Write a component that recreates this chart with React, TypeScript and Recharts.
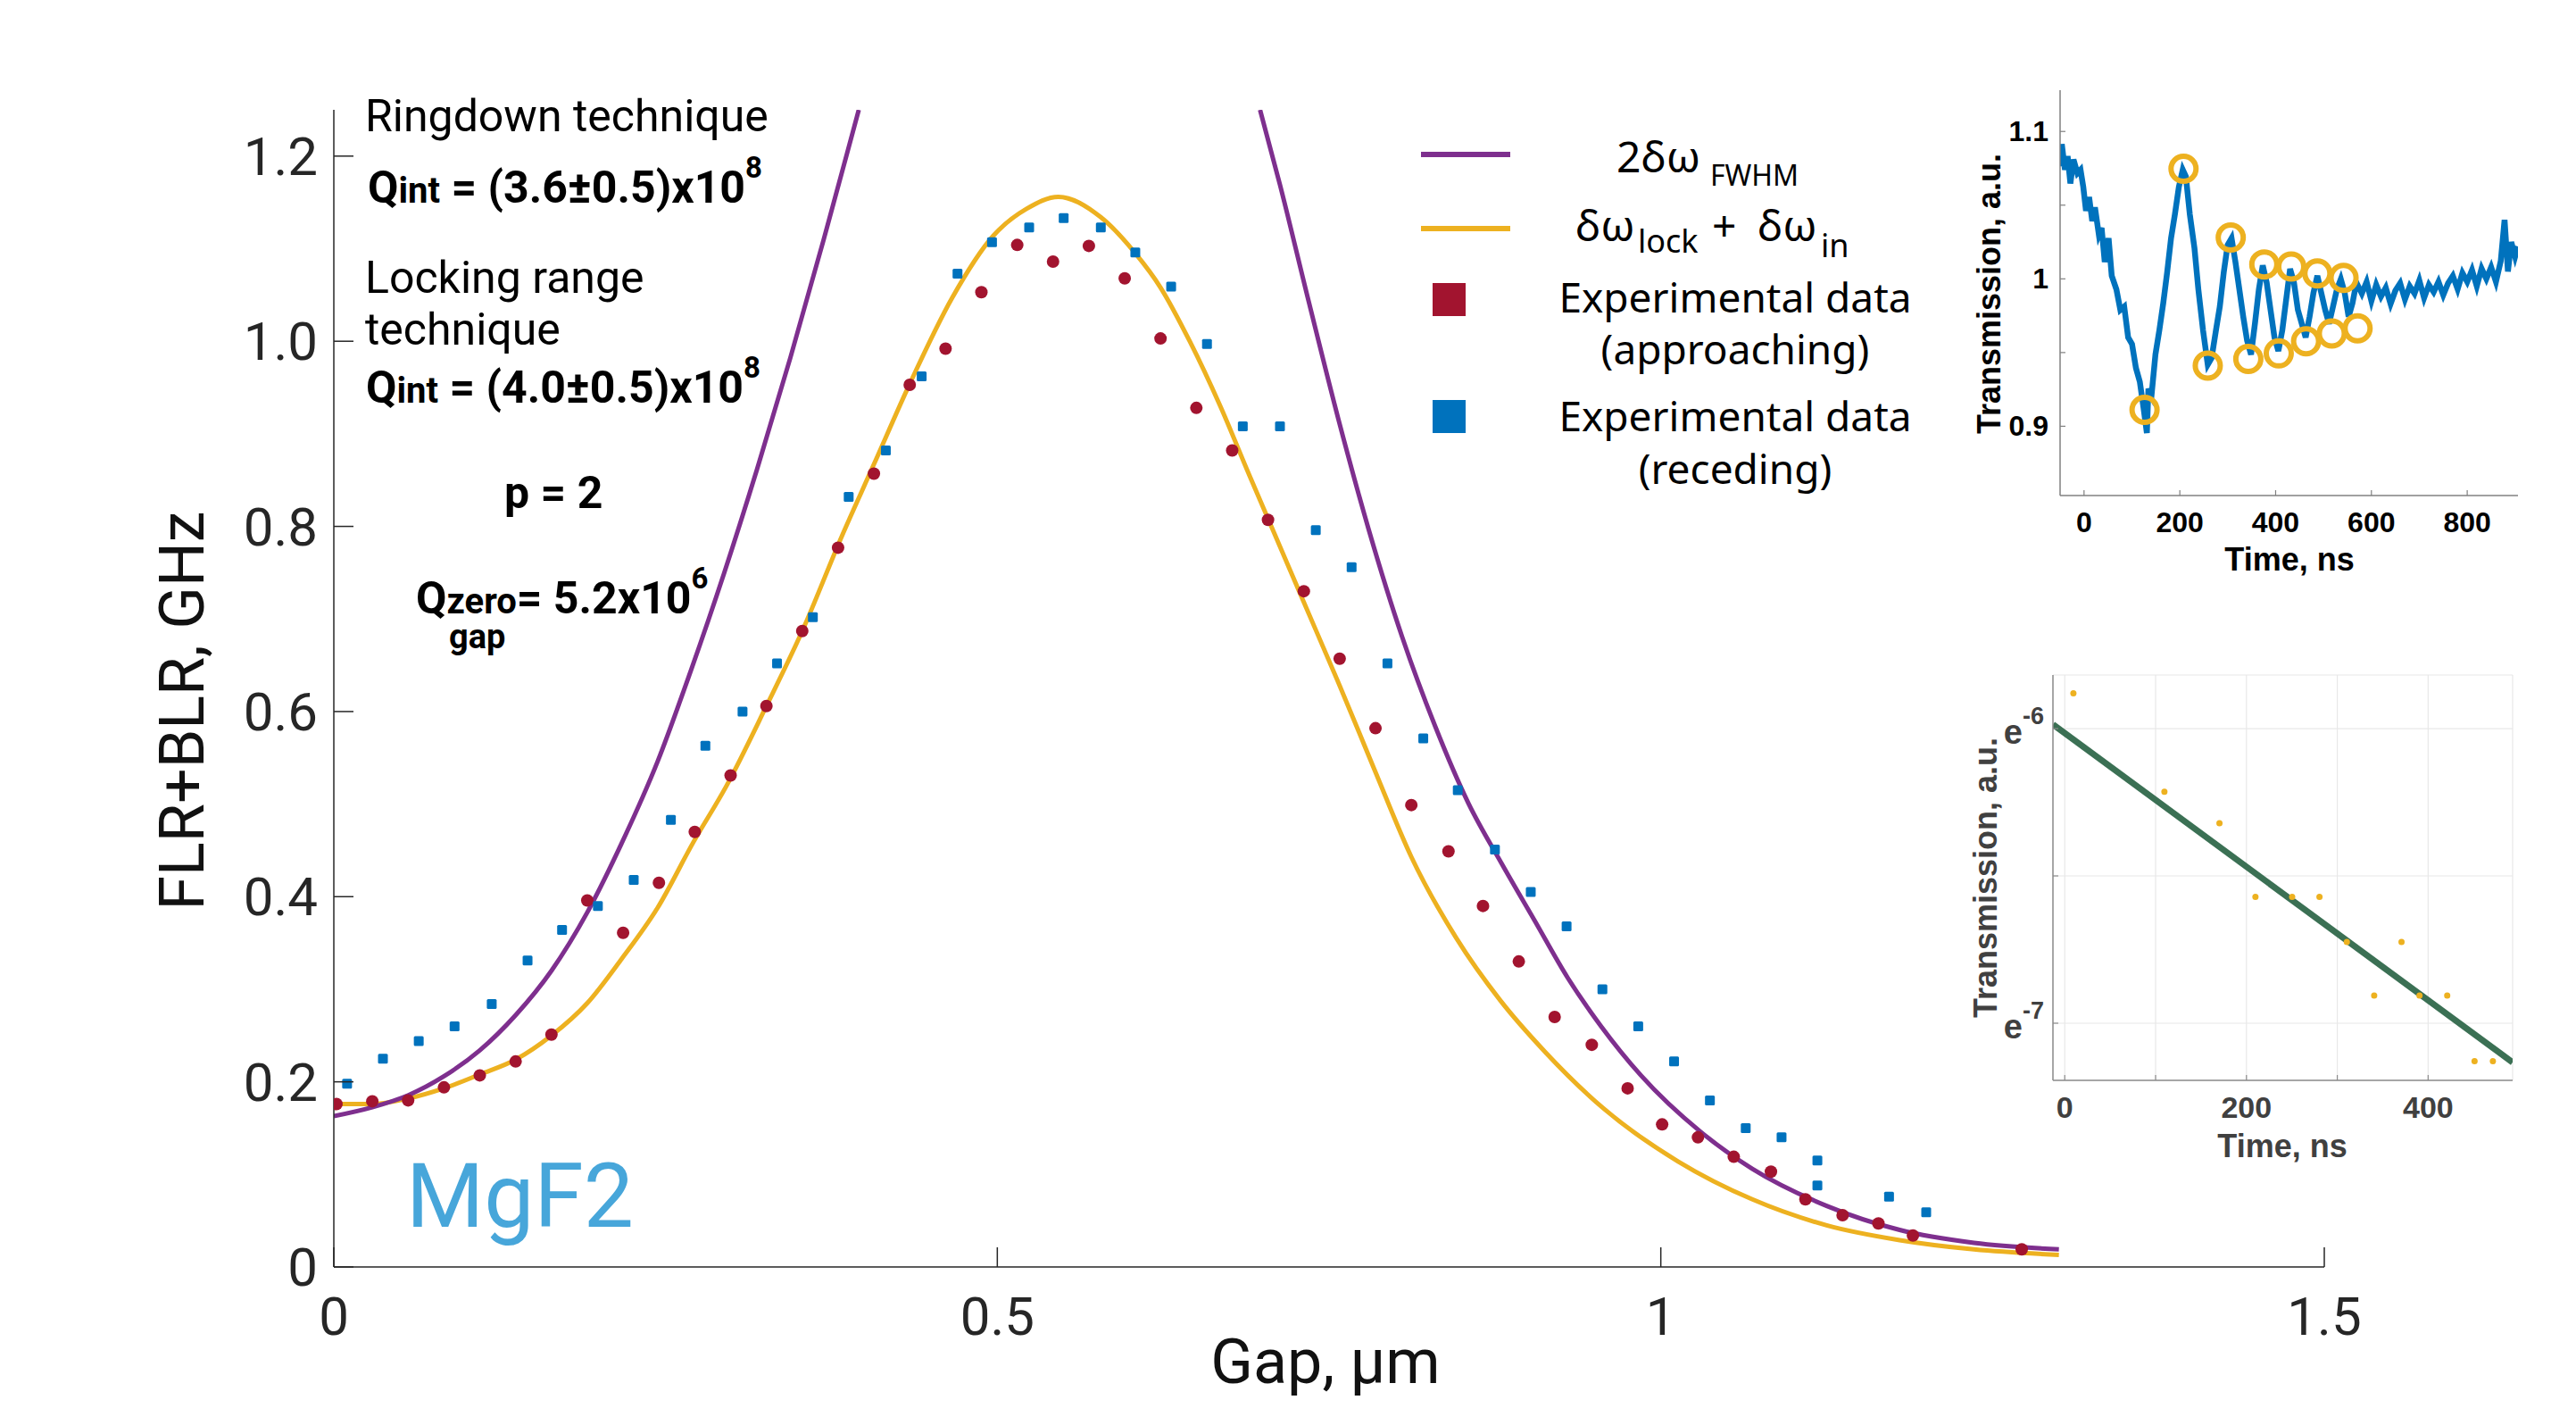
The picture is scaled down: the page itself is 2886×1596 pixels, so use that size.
import React from 'react';
import { ComposedChart, Line, Scatter, XAxis, YAxis, CartesianGrid } from 'recharts';

// main panel: locking range vs gap
const fwhmLeftGap = [0, 0.029, 0.056, 0.083, 0.11, 0.137, 0.164, 0.191, 0.217, 0.244, 0.269, 0.294, 0.319, 0.344, 0.369, 0.394, 0.3956];
const fwhmLeftVal = [0.163, 0.1726, 0.1855, 0.206, 0.234, 0.272, 0.32, 0.383, 0.458, 0.546, 0.644, 0.749, 0.862, 0.982, 1.109, 1.2415, 1.25];
const fwhmRightGap = [0.698, 0.713, 0.735, 0.757, 0.78, 0.805, 0.83, 0.855, 0.88, 0.905, 0.93, 0.955, 0.985, 1.03, 1.069, 1.125, 1.18, 1.236, 1.3];
const fwhmRightVal = [1.25, 1.169, 1.041, 0.916, 0.796, 0.681, 0.584, 0.501, 0.436, 0.374, 0.312, 0.26, 0.207, 0.146, 0.106, 0.066, 0.04, 0.026, 0.019];

const lockGap = [0, 0.029, 0.056, 0.083, 0.11, 0.137, 0.164, 0.191, 0.217, 0.244, 0.271, 0.296, 0.326, 0.353, 0.383, 0.407, 0.434, 0.466, 0.497, 0.522, 0.546, 0.578, 0.604, 0.623, 0.645, 0.668, 0.69, 0.708, 0.731, 0.758, 0.784, 0.812, 0.846, 0.879, 0.913, 0.957, 1.013, 1.069, 1.125, 1.18, 1.236, 1.3];
const lockVal = [0.176, 0.176, 0.182, 0.193, 0.208, 0.224, 0.25, 0.285, 0.333, 0.388, 0.459, 0.52, 0.606, 0.687, 0.79, 0.867, 0.954, 1.047, 1.114, 1.143, 1.156, 1.134, 1.095, 1.058, 1.0, 0.93, 0.855, 0.795, 0.718, 0.628, 0.538, 0.443, 0.355, 0.288, 0.232, 0.171, 0.114, 0.073, 0.045, 0.029, 0.019, 0.013];

const approachGap = [0.002, 0.029, 0.056, 0.083, 0.11, 0.137, 0.164, 0.191, 0.218, 0.245, 0.272, 0.299, 0.326, 0.353, 0.38, 0.407, 0.434, 0.461, 0.488, 0.515, 0.542, 0.569, 0.596, 0.623, 0.65, 0.677, 0.704, 0.731, 0.758, 0.785, 0.812, 0.84, 0.866, 0.893, 0.92, 0.948, 0.975, 1.001, 1.028, 1.055, 1.083, 1.109, 1.137, 1.164, 1.19, 1.272];
const approachVal = [0.176, 0.179, 0.18, 0.194, 0.207, 0.222, 0.251, 0.396, 0.361, 0.415, 0.47, 0.531, 0.606, 0.687, 0.777, 0.857, 0.953, 0.992, 1.053, 1.104, 1.086, 1.103, 1.068, 1.003, 0.928, 0.882, 0.807, 0.73, 0.657, 0.582, 0.499, 0.449, 0.39, 0.33, 0.27, 0.24, 0.193, 0.154, 0.14, 0.119, 0.103, 0.073, 0.056, 0.047, 0.034, 0.019];

const recedeGap = [0.01, 0.037, 0.064, 0.091, 0.119, 0.146, 0.172, 0.199, 0.226, 0.254, 0.28, 0.308, 0.334, 0.361, 0.388, 0.416, 0.443, 0.47, 0.496, 0.524, 0.55, 0.578, 0.604, 0.631, 0.658, 0.685, 0.713, 0.74, 0.767, 0.794, 0.821, 0.847, 0.875, 0.902, 0.929, 0.956, 0.983, 1.01, 1.037, 1.064, 1.091, 1.118, 1.118, 1.172, 1.2];
const recedeVal = [0.198, 0.225, 0.244, 0.26, 0.284, 0.331, 0.364, 0.39, 0.418, 0.483, 0.563, 0.6, 0.652, 0.702, 0.832, 0.882, 0.962, 1.073, 1.107, 1.123, 1.133, 1.123, 1.096, 1.059, 0.997, 0.908, 0.908, 0.796, 0.756, 0.652, 0.571, 0.515, 0.451, 0.405, 0.368, 0.3, 0.26, 0.222, 0.18, 0.15, 0.14, 0.115, 0.088, 0.076, 0.059];

const mainXTicks = [0, 0.5, 1, 1.5];
const mainYTicks = [0, 0.2, 0.4, 0.6, 0.8, 1.0, 1.2];

// inset 1: ringdown trace
const ringTime = [-49, -46.4, -39.9, -34.2, -28.5, -22, -13.9, -7.3, -1.6, 4.1, 10.6, 17.1, 22.8, 31, 36.7, 43.2, 51.3, 57.8, 67.6, 75.8, 83.9, 92.1, 100.2, 108.4, 116.5, 124.6, 131.2, 134.4, 140.9, 149.1, 157.2, 165.4, 173.5, 181.7, 189.8, 198, 206.1, 212.6, 220.8, 230.6, 238.7, 248.5, 258.3, 266.4, 275.4, 283.5, 291.7, 299.8, 308, 316.1, 324.3, 332.4, 340.5, 348.7, 356.8, 365, 373.1, 381.3, 389.4, 397.6, 405.7, 413.9, 422, 430.2, 438.3, 446.5, 454.6, 462.7, 470.9, 479, 487.2, 495.3, 503.5, 511.6, 519.8, 527.9, 536.1, 544.2, 552.4, 560.5, 568.7,
  580, 590, 600, 610, 620, 630, 640, 650, 660, 670, 680, 690, 700, 710, 720, 730, 740, 750, 760, 770, 780, 790, 800, 810, 820, 830, 840, 850, 860, 870, 878, 885, 892, 900, 906];
const ringTrans = [1.0763, 1.0914, 1.074, 1.0833, 1.0647, 1.081, 1.0717, 1.074, 1.0624, 1.0462, 1.0555, 1.0392, 1.0485, 1.0299, 1.0346, 1.0114, 1.0276, 1.0021, 0.9928, 0.9789, 0.9812, 0.9603, 0.9557, 0.9395, 0.9302, 0.9116, 0.8954, 0.9255, 0.9209, 0.9487, 0.965, 0.9835, 1.0044, 1.0276, 1.0439, 1.0624, 1.074, 1.0694, 1.0439, 1.0207, 0.9928, 0.965, 0.9418, 0.9464, 0.965, 0.9812, 1.0044, 1.023, 1.0276, 1.0114, 0.9928, 0.9743, 0.958, 0.9487, 0.9696, 0.9928, 1.0091, 0.9975, 0.9789, 0.9603, 0.951, 0.965, 0.9859, 1.0067, 0.9975, 0.9789, 0.9696, 0.9603, 0.9743, 0.9905, 1.0021, 0.9905, 0.9789, 0.9696, 0.9812, 0.9928, 0.9998, 0.9905, 0.9743, 0.9835, 0.9975,
  0.99, 0.998, 0.985, 0.996, 0.988, 0.994, 0.983, 0.992, 0.997, 0.986, 0.995, 0.99, 0.999, 0.987, 0.996, 0.991, 0.998, 0.989, 0.997, 1.002, 0.993, 1.004, 0.998, 1.006, 0.995, 1.007, 1.0, 1.008, 0.998, 1.012, 1.04, 1.005, 1.025, 1.015, 1.022];
const extremaTime = [126.3, 207.7, 258.3, 306.3, 343, 376.4, 406.5, 432.6, 463.6, 487.2, 517.3, 541.8, 571.1];
const extremaTrans = [0.9112, 1.0747, 0.9411, 1.0281, 0.9457, 1.0098, 0.9494, 1.0084, 0.9576, 1.0037, 0.9629, 1.0007, 0.9664];
const ringXTicks = [0, 200, 400, 600, 800];
const ringYTicks = [0.9, 0.95, 1, 1.05, 1.1];

// inset 2: log of peak envelope
const decayTime = [9.5, 109.7, 170.3, 209.9, 250.3, 280.4, 310.5, 340.6, 370.7, 390.5, 421, 451.1, 471.3];
const decayLog = [-5.88, -6.214, -6.321, -6.571, -6.571, -6.571, -6.724, -6.906, -6.724, -6.906, -6.906, -7.129, -7.129];
const fitTime = [-13, 493];
const fitLog = [-5.986, -7.133];
const decayXTicks = [0, 100, 200, 300, 400];
const decayYTicks = [-7, -6.5, -6];

const pairs = (xs: number[], ys: number[], kx = 'x', ky = 'y') => xs.map((x, i) => ({ [kx]: x, [ky]: ys[i] }));

const INK = '#262626';
const PURPLE = '#7E2F8E';
const ORANGE = '#EDB120';
const RED = '#A2142F';
const BLUE = '#0072BD';

const MainXTick = (p: any) => (
  <g>
    <line x1={p.x} x2={p.x} y1={p.y} y2={p.y - 22} stroke={INK} strokeWidth={1.5} />
    <text x={p.x} y={p.y + 76} textAnchor="middle" fontFamily="Roboto" fontSize={60} fill={INK}>{String(p.payload.value)}</text>
  </g>
);
const MainYTick = (p: any) => (
  <g>
    <line x1={p.x} x2={p.x + 22} y1={p.y} y2={p.y} stroke={INK} strokeWidth={1.5} />
    <text x={p.x - 18} y={p.y + 21} textAnchor="end" fontFamily="Roboto" fontSize={60} fill={INK}>
      {p.payload.value === 0 ? '0' : p.payload.value.toFixed(1)}
    </text>
  </g>
);

const insetFont = '"Liberation Sans", Arial, sans-serif';
const near = (a: number, b: number) => Math.abs(a - b) < 1e-6;

const RingXTick = (p: any) => (
  <g>
    <line x1={p.x} x2={p.x} y1={p.y} y2={p.y - 6} stroke="#808080" strokeWidth={1.2} />
    <text x={p.x} y={p.y + 41} textAnchor="middle" fontFamily={insetFont} fontWeight={700} fontSize={32} fill="#000">{String(p.payload.value)}</text>
  </g>
);
const RingYTick = (p: any) => {
  const v = p.payload.value;
  const lab = near(v, 0.9) ? '0.9' : near(v, 1) ? '1' : near(v, 1.1) ? '1.1' : '';
  return (
    <g>
      <line x1={p.x} x2={p.x + 6} y1={p.y} y2={p.y} stroke="#808080" strokeWidth={1.2} />
      <text x={p.x - 13} y={p.y + 11} textAnchor="end" fontFamily={insetFont} fontWeight={700} fontSize={32} fill="#000">{lab}</text>
    </g>
  );
};
const TopTick = (p: any) => <line x1={p.x} x2={p.x} y1={p.y} y2={p.y + 6} stroke="#808080" strokeWidth={1.2} />;
const RightTick = (p: any) => <line x1={p.x} x2={p.x - 6} y1={p.y} y2={p.y} stroke="#808080" strokeWidth={1.2} />;

const DecayXTick = (p: any) => {
  const v = p.payload.value;
  return (
    <g>
      <line x1={p.x} x2={p.x} y1={p.y} y2={p.y - 6} stroke="#8c8c8c" strokeWidth={1.2} />
      {v % 200 === 0 && (
        <text x={p.x} y={p.y + 42} textAnchor="middle" fontFamily={insetFont} fontWeight={700} fontSize={34} fill="#404040">{String(v)}</text>
      )}
    </g>
  );
};
const DecayYTick = (p: any) => {
  const v = p.payload.value;
  return (
    <g>
      <line x1={p.x} x2={p.x + 6} y1={p.y} y2={p.y} stroke="#8c8c8c" strokeWidth={1.2} />
      {Number.isInteger(v) && (
        <text x={p.x - 10} y={p.y + 17} textAnchor="end" fontFamily={insetFont} fontWeight={700} fontSize={38} fill="#404040">
          e<tspan dy={-22} fontSize={27}>{String(v)}</tspan>
        </text>
      )}
    </g>
  );
};

const App: React.FC = () => {
  const fwhmLeft = pairs(fwhmLeftGap, fwhmLeftVal);
  const fwhmRight = pairs(fwhmRightGap, fwhmRightVal);
  const lock = pairs(lockGap, lockVal);
  const approach = pairs(approachGap, approachVal);
  const recede = pairs(recedeGap, recedeVal);
  const ring = pairs(ringTime, ringTrans, 't', 'v');
  const extrema = pairs(extremaTime, extremaTrans, 't', 'v');
  const decay = pairs(decayTime, decayLog, 't', 'v');
  const fit = pairs(fitTime, fitLog, 't', 'v');

  return (
    <div style={{ position: 'absolute', left: 0, top: 0, width: 2886, height: 1596, background: '#fff', fontFamily: 'Roboto' }}>
      <ComposedChart width={2886} height={1596} margin={{ top: 123, right: 282, bottom: 117, left: 274 }}>
        <XAxis type="number" dataKey="x" domain={[0, 1.5]} ticks={mainXTicks} interval={0} allowDataOverflow
          height={60} axisLine={{ stroke: INK, strokeWidth: 1.5 }} tickLine={false} tickSize={0} tickMargin={0} tick={MainXTick} />
        <YAxis type="number" dataKey="y" domain={[0, 1.25]} ticks={mainYTicks} interval={0} allowDataOverflow
          width={100} axisLine={{ stroke: INK, strokeWidth: 1.5 }} tickLine={false} tickSize={0} tickMargin={0} tick={MainYTick} />
        <Line data={lock} dataKey="y" type="monotone" stroke={ORANGE} strokeWidth={5} dot={false} isAnimationActive={false} />
        <Scatter data={approach} dataKey="y" isAnimationActive={false}
          shape={(p: any) => <circle cx={p.cx} cy={p.cy} r={7} fill={RED} />} />
        <Scatter data={recede} dataKey="y" isAnimationActive={false}
          shape={(p: any) => <rect x={p.cx - 5.5} y={p.cy - 5.5} width={11} height={11} rx={1.5} fill={BLUE} />} />
        <Line data={fwhmLeft} dataKey="y" type="monotone" stroke={PURPLE} strokeWidth={5} dot={false} isAnimationActive={false} />
        <Line data={fwhmRight} dataKey="y" type="monotone" stroke={PURPLE} strokeWidth={5} dot={false} isAnimationActive={false} />
      </ComposedChart>

      <div style={{ position: 'absolute', left: 2200, top: 60 }}>
        <ComposedChart width={686} height={600} margin={{ top: 41, right: 65, bottom: 60, left: 48 }}>
          <XAxis type="number" dataKey="t" domain={[-50, 906]} ticks={ringXTicks} interval={0} allowDataOverflow height={45}
            axisLine={{ stroke: '#808080', strokeWidth: 1.5 }} tickLine={false} tickSize={0} tickMargin={0} tick={RingXTick} />
          <XAxis xAxisId="top" orientation="top" type="number" domain={[-50, 906]} ticks={ringXTicks} interval={0} height={0}
            axisLine={{ stroke: '#808080', strokeWidth: 1.5 }} tickLine={false} tickSize={0} tickMargin={0} tick={TopTick} />
          <YAxis type="number" dataKey="v" domain={[0.853, 1.128]} ticks={ringYTicks} interval={0} allowDataOverflow width={60}
            axisLine={{ stroke: '#808080', strokeWidth: 1.5 }} tickLine={false} tickSize={0} tickMargin={0} tick={RingYTick} />
          <YAxis yAxisId="right" orientation="right" type="number" domain={[0.853, 1.128]} ticks={ringYTicks} interval={0} width={0}
            axisLine={{ stroke: '#808080', strokeWidth: 1.5 }} tickLine={false} tickSize={0} tickMargin={0} tick={RightTick} />
          <Line data={ring} dataKey="v" type="linear" stroke={BLUE} strokeWidth={6.5} dot={false} isAnimationActive={false} />
          <Scatter data={extrema} dataKey="v" isAnimationActive={false}
            shape={(p: any) => <circle cx={p.cx} cy={p.cy} r={14} fill="none" stroke={ORANGE} strokeWidth={6} />} />
        </ComposedChart>
      </div>

      <div style={{ position: 'absolute', left: 2200, top: 720 }}>
        <ComposedChart width={686} height={600} margin={{ top: 36, right: 71, bottom: 65, left: 40 }}>
          <CartesianGrid stroke="#e8e8e8" strokeWidth={1.2} />
          <XAxis type="number" dataKey="t" domain={[-13, 493]} ticks={decayXTicks} interval={0} allowDataOverflow height={45}
            axisLine={{ stroke: '#8c8c8c', strokeWidth: 1.5 }} tickLine={false} tickSize={0} tickMargin={0} tick={DecayXTick} />
          <XAxis xAxisId="top" orientation="top" type="number" domain={[-13, 493]} ticks={decayXTicks} interval={0} height={0}
            axisLine={{ stroke: '#8c8c8c', strokeWidth: 1.5 }} tickLine={false} tickSize={0} tickMargin={0} tick={TopTick} />
          <YAxis type="number" dataKey="v" domain={[-7.194, -5.818]} ticks={decayYTicks} interval={0} allowDataOverflow width={60}
            axisLine={{ stroke: '#8c8c8c', strokeWidth: 1.5 }} tickLine={false} tickSize={0} tickMargin={0} tick={DecayYTick} />
          <YAxis yAxisId="right" orientation="right" type="number" domain={[-7.194, -5.818]} ticks={decayYTicks} interval={0} width={0}
            axisLine={{ stroke: '#8c8c8c', strokeWidth: 1.5 }} tickLine={false} tickSize={0} tickMargin={0} tick={RightTick} />
          <Line data={fit} dataKey="v" type="linear" stroke="#3B7054" strokeWidth={7} dot={false} isAnimationActive={false} />
          <Scatter data={decay} dataKey="v" isAnimationActive={false}
            shape={(p: any) => <circle cx={p.cx} cy={p.cy} r={3.5} fill={ORANGE} />} />
        </ComposedChart>
      </div>

      <svg width={2886} height={1596} style={{ position: 'absolute', left: 0, top: 0, pointerEvents: 'none' }}>
        {/* main axis titles */}
        <text x={228} y={796} transform="rotate(-90 228 796)" textAnchor="middle" fontFamily="Roboto" fontSize={70} fill="#111">FLR+BLR, GHz</text>
        <text x={1485} y={1549} textAnchor="middle" fontFamily="Roboto" fontSize={70} fill="#111">Gap, μm</text>

        {/* annotations */}
        <g fontFamily="Roboto" fill="#000">
          <text x={409} y={147} fontSize={50}>Ringdown technique</text>
          <text x={412} y={227} fontSize={50} fontWeight={700}>Q<tspan fontSize={40}>int</tspan> = (3.6±0.5)x10<tspan fontSize={33} dy={-28}>8</tspan></text>
          <text x={409} y={328} fontSize={50}>Locking range</text>
          <text x={409} y={386} fontSize={50}>technique</text>
          <text x={410} y={451} fontSize={50} fontWeight={700}>Q<tspan fontSize={40}>int</tspan> = (4.0±0.5)x10<tspan fontSize={33} dy={-28}>8</tspan></text>
          <text x={565} y={569} fontSize={50} fontWeight={700}>p = 2</text>
          <text x={466} y={687} fontSize={50} fontWeight={700}>Q<tspan fontSize={40}>zero</tspan>= 5.2x10<tspan fontSize={33} dy={-28}>6</tspan></text>
          <text x={503} y={726} fontSize={38} fontWeight={700}>gap</text>
        </g>
        <text x={455} y={1374} fontFamily="Roboto" fontSize={100} fill="#47A6DA">MgF2</text>

        {/* legend */}
        <line x1={1592} x2={1692} y1={173} y2={173} stroke={PURPLE} strokeWidth={6} />
        <line x1={1592} x2={1692} y1={256} y2={256} stroke={ORANGE} strokeWidth={6} />
        <rect x={1605} y={317} width={37} height={37} fill={RED} />
        <rect x={1605} y={448} width={37} height={37} fill={BLUE} />
        <g fontFamily='"Noto Sans"' fill="#000">
          <text x={1811} y={193} fontSize={48}>2δω</text>
          <text x={1916} y={208} fontSize={32}>FWHM</text>
          <text x={1765} y={270} fontSize={48}>δω</text>
          <text x={1835} y={283} fontSize={36}>lock</text>
          <text x={1918} y={270} fontSize={48}>+</text>
          <text x={1969} y={270} fontSize={48}>δω</text>
          <text x={2040} y={288} fontSize={36}>in</text>
          <text x={1944} y={350} fontSize={46} textAnchor="middle">Experimental data</text>
          <text x={1944} y={408} fontSize={46} textAnchor="middle">(approaching)</text>
          <text x={1944} y={483} fontSize={46} textAnchor="middle">Experimental data</text>
          <text x={1944} y={542} fontSize={46} textAnchor="middle">(receding)</text>
        </g>

        {/* inset titles */}
        <g fontFamily={insetFont} fontWeight={700} fontSize={36}>
          <text x={2241} y={329} transform="rotate(-90 2241 329)" textAnchor="middle" fill="#000">Transmission, a.u.</text>
          <text x={2565} y={639} textAnchor="middle" fill="#000">Time, ns</text>
          <text x={2237} y={983} transform="rotate(-90 2237 983)" textAnchor="middle" fill="#404040">Transmission, a.u.</text>
          <text x={2557} y={1296} textAnchor="middle" fill="#404040">Time, ns</text>
        </g>
      </svg>
    </div>
  );
};

export default App;
